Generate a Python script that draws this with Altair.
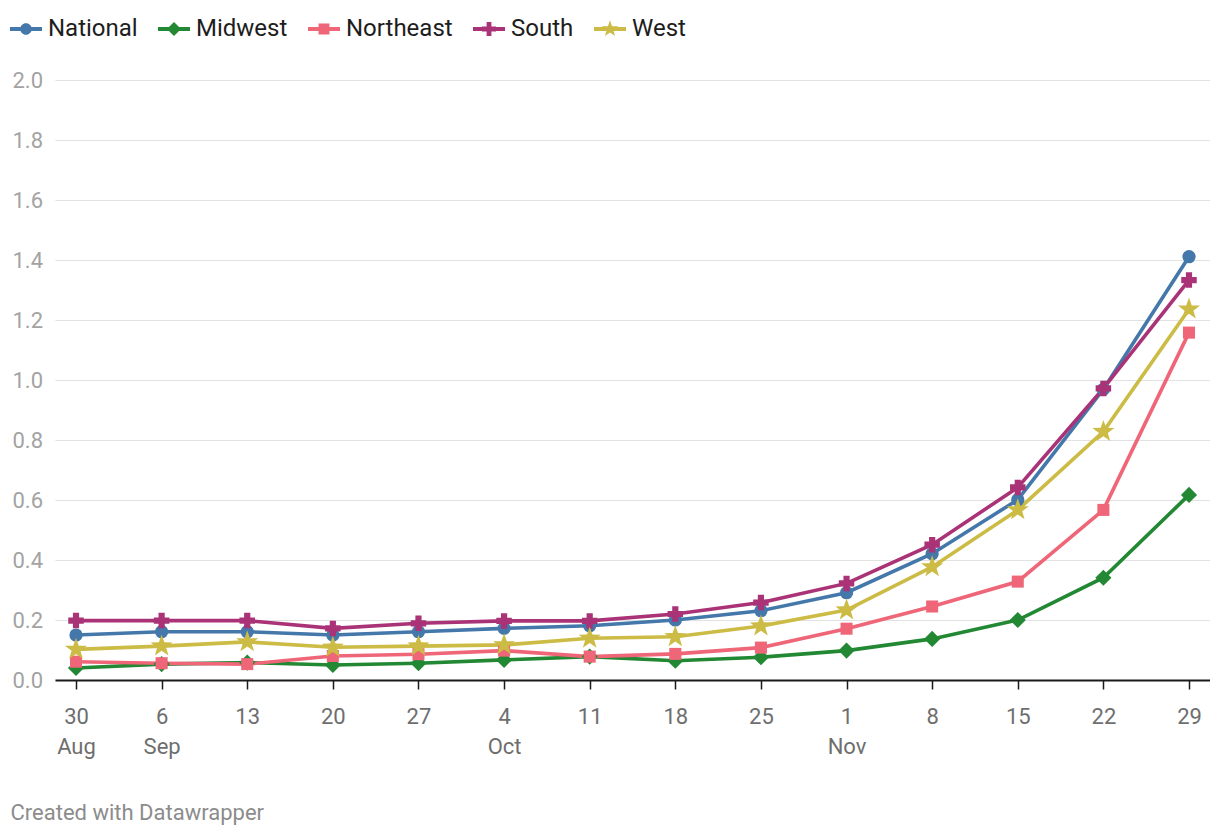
import altair as alt
import pandas as pd

# ---- data ----
dates = ["2020-08-30", "2020-09-06", "2020-09-13", "2020-09-20", "2020-09-27",
         "2020-10-04", "2020-10-11", "2020-10-18", "2020-10-25", "2020-11-01",
         "2020-11-08", "2020-11-15", "2020-11-22", "2020-11-29"]
series_names = ["National", "Midwest", "Northeast", "South", "West"]
national = [0.150, 0.161, 0.161, 0.150, 0.161, 0.172, 0.181, 0.200, 0.231, 0.291, 0.421, 0.601, 0.969, 1.411]
midwest = [0.040, 0.053, 0.058, 0.050, 0.056, 0.067, 0.078, 0.064, 0.076, 0.098, 0.137, 0.200, 0.341, 0.617]
northeast = [0.061, 0.056, 0.053, 0.080, 0.086, 0.098, 0.078, 0.087, 0.108, 0.171, 0.245, 0.328, 0.567, 1.158]
south = [0.198, 0.198, 0.198, 0.172, 0.189, 0.197, 0.197, 0.220, 0.258, 0.322, 0.451, 0.642, 0.972, 1.333]
west = [0.102, 0.113, 0.127, 0.109, 0.113, 0.117, 0.139, 0.144, 0.180, 0.233, 0.377, 0.567, 0.828, 1.236]
y_ticks = [0.0, 0.2, 0.4, 0.6, 0.8, 1.0, 1.2, 1.4, 1.6, 1.8, 2.0]
footer = "Created with Datawrapper"

# ---- styles ----
colors = ["#4477AA", "#228833", "#EE6677", "#AA3377", "#CCBB44"]
star = ("M0,-1L0.235,-0.324L0.951,-0.309L0.380,0.124L0.588,0.809L0,0.4"
        "L-0.588,0.809L-0.380,0.124L-0.951,-0.309L-0.235,-0.324Z")
shapes = ["circle", "diamond", "square", "cross", star]
sizes = [175, 260, 145, 240, 540]
# legend symbols: a short line with the marker in the middle (unit box -1..1)
bar = "M-1,-0.12H1V0.12H-1Z "
legend_shapes = [
    bar + "M0.36,0A0.36,0.36 0 1,1 -0.36,0A0.36,0.36 0 1,1 0.36,0Z",
    bar + "M0,-0.44L0.44,0L0,0.44L-0.44,0Z",
    bar + "M-0.34,-0.34H0.34V0.34H-0.34Z",
    bar + "M-0.15,-0.44H0.15V0.44H-0.15Z M-0.44,-0.15H0.44V0.15H-0.44Z",
    bar + "M0,-0.54L0.127,-0.175L0.514,-0.167L0.205,0.067L0.318,0.437L0,0.216"
          "L-0.318,0.437L-0.205,0.067L-0.514,-0.167L-0.127,-0.175Z",
]

values = {"National": national, "Midwest": midwest, "Northeast": northeast,
          "South": south, "West": west}
rows = []
for name in series_names:
    for d, v in zip(dates, values[name]):
        rows.append({"date": d, "series": name, "value": v})
df = pd.DataFrame(rows)

x_enc = alt.X(
    "date:T",
    scale=alt.Scale(type="utc", padding=21, nice=False),
    axis=alt.Axis(
        values=[alt.DateTime(year=int(d[:4]), month=int(d[5:7]), date=int(d[8:]), utc=True) for d in dates],
        labelExpr="(utcdate(datum.value) <= 7 || utcmonth(datum.value) == 7) ? "
                  "[utcFormat(datum.value, '%-d'), utcFormat(datum.value, '%b')] : "
                  "utcFormat(datum.value, '%-d')",
        grid=False, domain=True, domainColor="#1a1a1a", domainWidth=2,
        ticks=True, tickColor="#1a1a1a", tickSize=9, tickWidth=1.5,
        labelFont="Roboto", labelFontSize=22, labelColor="#6e6e6e",
        labelPadding=17, labelLineHeight=30, labelOverlap=False, labelFlush=False,
        labelBound=False,
        title=footer, titleX=-45, titleY=132, titleAlign="left", titleBaseline="middle",
        titleFont="Roboto", titleFontSize=22, titleFontWeight="normal", titleColor="#8c8c8c",
    ),
)
y_enc = alt.Y(
    "value:Q",
    scale=alt.Scale(domain=[0, 2], nice=False),
    axis=alt.Axis(
        values=y_ticks, format=".1f", title=None, domain=False, ticks=False,
        grid=True, gridColor="#e2e2e2", gridWidth=1.2,
        labelFont="Roboto", labelFontSize=22, labelColor="#a3a3a3",
        labelAlign="left", labelPadding=43, labelBaseline="middle",
    ),
)
color_scale = alt.Scale(domain=series_names, range=colors)

lines = alt.Chart(df).mark_line(strokeWidth=3.6).encode(
    x=x_enc, y=y_enc,
    color=alt.Color("series:N", scale=color_scale, legend=None),
    detail="series:N",
)

points = alt.Chart(df).mark_point(filled=True, opacity=1, strokeWidth=0).encode(
    x=x_enc, y=y_enc,
    color=alt.Color("series:N", scale=color_scale, legend=None),
    shape=alt.Shape("series:N", scale=alt.Scale(domain=series_names, range=shapes), legend=None),
    size=alt.Size("series:N", scale=alt.Scale(type="ordinal", domain=series_names, range=sizes), legend=None),
)

legend = alt.Legend(
    orient="none", legendX=-45, legendY=-67, direction="horizontal", title=None,
    symbolSize=1024, symbolStrokeWidth=0, symbolOpacity=1,
    labelFont="Roboto", labelFontSize=24, labelColor="#1d1d1d",
    labelOffset=6, columnPadding=20, padding=0,
)
ghost = alt.Chart(df).mark_point(filled=True, opacity=0, size=1024).encode(
    x=x_enc, y=y_enc,
    color=alt.Color("series:N", scale=alt.Scale(domain=series_names, range=colors), legend=legend),
    shape=alt.Shape("series:N", scale=alt.Scale(domain=series_names, range=legend_shapes), legend=legend),
)

chart = alt.layer(lines, points, ghost).resolve_scale(
    shape="independent", size="independent", color="independent"
).properties(
    width=1155, height=600,
    padding={"left": 47, "top": 72, "right": 0, "bottom": 148},
    autosize=alt.AutoSizeParams(type="none"),
    background="white",
).configure_view(stroke=None)

chart.save("out.html", embed_options={"renderer": "svg", "actions": False})
